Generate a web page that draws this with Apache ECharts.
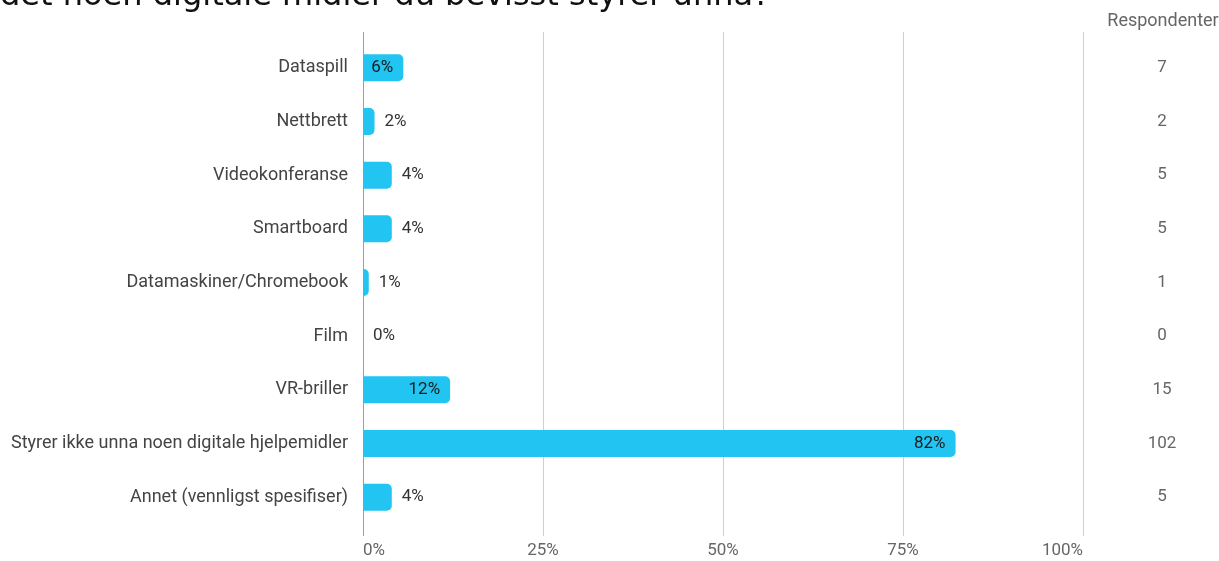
<!DOCTYPE html>
<html>
<head>
<meta charset="utf-8">
<script src="https://cdn.jsdelivr.net/npm/echarts@6/dist/echarts.min.js"></script>
<style>
html,body{margin:0;padding:0;background:#fff;}
#c{width:1219px;height:561px;}
</style>
</head>
<body>
<div id="c"></div>
<script>
const titleText = 'det noen digitale midler du bevisst styrer unna?';
const categories = ['Dataspill','Nettbrett','Videokonferanse','Smartboard','Datamaskiner/Chromebook','Film','VR-briller','Styrer ikke unna noen digitale hjelpemidler','Annet (vennligst spesifiser)'];
const percents = [5.6, 1.6, 4.0, 4.0, 0.8, 0, 12.1, 82.3, 4.0];
const pctLabels = ['6%','2%','4%','4%','1%','0%','12%','82%','4%'];
const respondents = [7, 2, 5, 5, 1, 0, 15, 102, 5];
const respHeader = 'Respondenter';
const xTicks = ['0%','25%','50%','75%','100%'];

const FONT = 'Roboto';
const chart = echarts.init(document.getElementById('c'));

const seriesData = percents.map((v, i) => ({
  value: v,
  label: v >= 5
    ? { position: 'insideRight', color: '#1a1a1a' }
    : { position: 'right', color: '#333' }
}));

chart.setOption({
  animation: false,
  graphic: [
    { type: 'text', x: 0, y: -3, style: { text: titleText, font: '32px "DejaVu Sans"', fill: '#111', verticalAlign: 'middle' } },
    { type: 'text', x: 1163, y: 21, style: { text: respHeader, font: '18px Roboto', fill: '#666', align: 'center', verticalAlign: 'middle' } }
  ],
  grid: [
    { left: 363, right: 136, top: 41, bottom: 37 },
    { left: 363, right: 136, top: 32, bottom: 25 }
  ],
  xAxis: [
    {
      gridIndex: 0, type: 'value', min: 0, max: 100, interval: 25,
      axisLine: { show: false }, axisTick: { show: false }, splitLine: { show: false },
      axisLabel: {
        margin: 18, color: '#666', fontFamily: FONT, fontSize: 17,
        alignMinLabel: 'left', alignMaxLabel: 'right',
        formatter: (v) => xTicks[Math.round(v / 25)]
      }
    },
    {
      gridIndex: 1, type: 'value', min: 0, max: 100, interval: 25,
      axisLine: { show: false }, axisTick: { show: false }, axisLabel: { show: false },
      splitLine: { show: true, lineStyle: { color: ['#9e9e9e', '#cfcfcf', '#cfcfcf', '#cfcfcf', '#cfcfcf'], width: 1 } }
    }
  ],
  yAxis: [
    {
      gridIndex: 0, type: 'category', data: categories, inverse: true,
      axisLine: { show: false }, axisTick: { show: false },
      axisLabel: { margin: 15, color: '#444', fontFamily: FONT, fontSize: 18 }
    },
    {
      gridIndex: 0, type: 'category', data: respondents.map(String), inverse: true, position: 'right',
      axisLine: { show: false }, axisTick: { show: false },
      axisLabel: { margin: 79, align: 'center', color: '#666', fontFamily: FONT, fontSize: 17 }
    },
    { gridIndex: 1, type: 'category', data: [''], show: false }
  ],
  series: [{
    type: 'bar', xAxisIndex: 0, yAxisIndex: 0,
    data: seriesData,
    barWidth: 27,
    itemStyle: { color: '#22C4F2', borderRadius: [0, 5, 5, 0] },
    label: {
      show: true, distance: 10, fontFamily: FONT, fontSize: 17,
      formatter: (p) => pctLabels[p.dataIndex]
    }
  }]
});
</script>
</body>
</html>
